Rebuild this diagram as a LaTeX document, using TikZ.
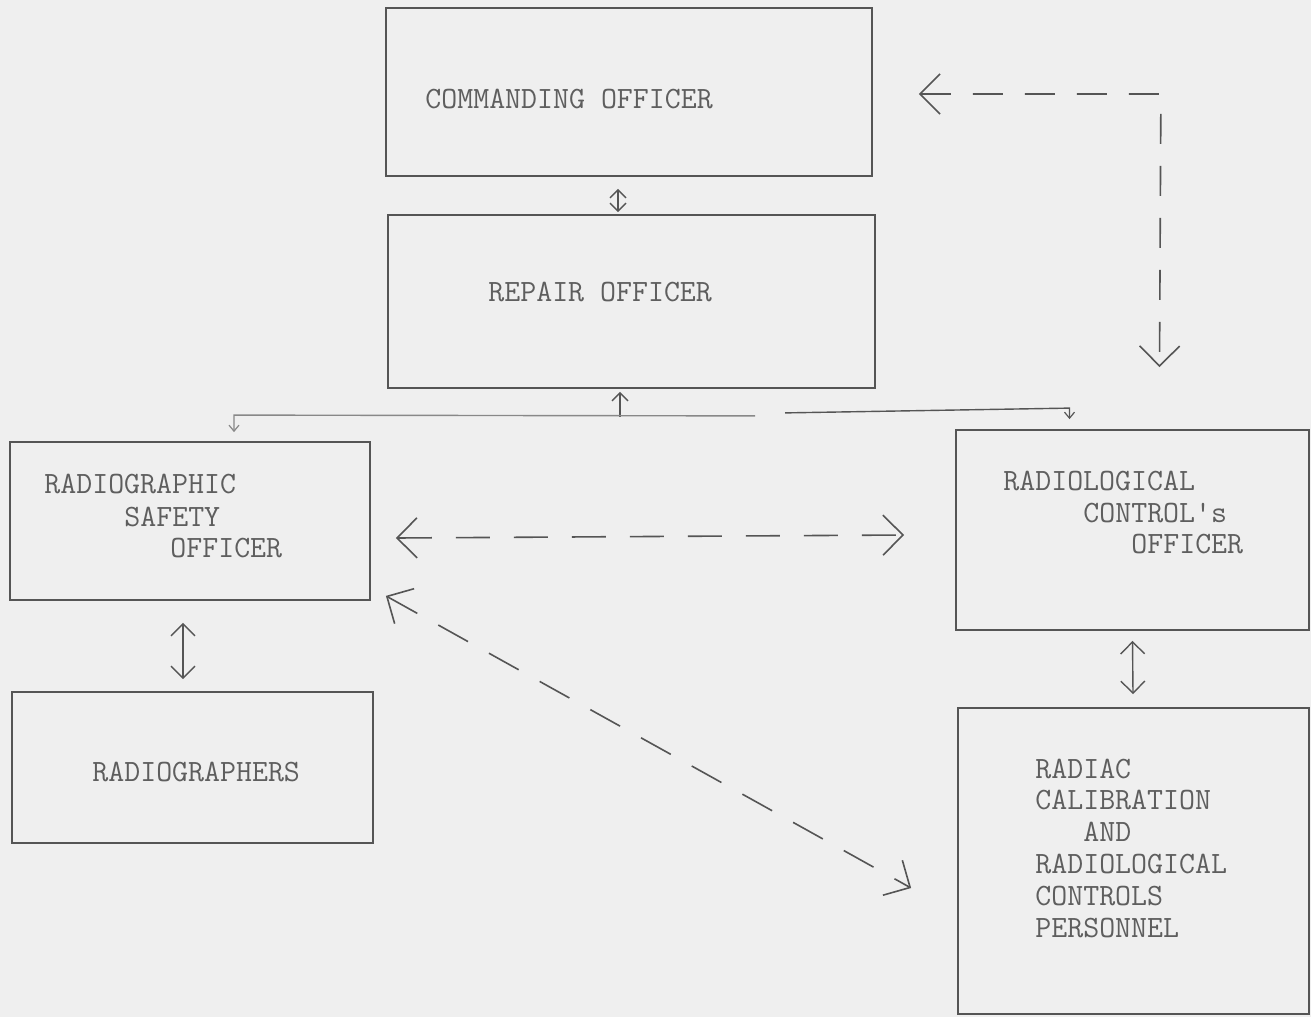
\documentclass[tikz,border=0pt]{standalone}
\usepackage{fontspec}
\usetikzlibrary{arrows.meta,fit,calc}
\definecolor{paper}{HTML}{EFEFEF}
\definecolor{ink}{HTML}{555555}
\definecolor{txt}{HTML}{5E5E5E}
\tikzset{
  bigtip/.tip={Straight Barb[length=10pt,width=20pt,line width=0.8pt]},
  midtip/.tip={Straight Barb[length=6pt,width=12pt,line width=0.7pt]},
  smalltip/.tip={Straight Barb[length=3pt,width=5pt,line width=0.6pt]},
  tinytip/.tip={Straight Barb[length=4pt,width=8pt,line width=0.7pt]}
}
\begin{document}
\begin{tikzpicture}[x=0.5pt,y=-0.5pt,
  box/.style={draw=ink, line width=0.9pt, inner sep=0pt},
  lbl/.style={anchor=base west, inner sep=0pt, text=txt, font=\ttfamily\fontsize{15.5}{18}\selectfont},
  dline/.style={draw=ink, line width=0.8pt, dash pattern=on 17pt off 12pt},
  dlineB/.style={draw=ink, line width=0.8pt, dash pattern=on 15pt off 11pt},
  sline/.style={draw=ink, line width=0.7pt}]
\fill[paper] (0,0) rectangle (1311,1017);
\useasboundingbox (0,0) rectangle (1311,1017);

% boxes
\node[box, fit={(386,8) (872,176)}] (co) {};
\node[box, fit={(388,215) (875,388)}] (rep) {};
\node[box, fit={(10,442) (370,600)}] (rso) {};
\node[box, fit={(12,692) (373,843)}] (rg) {};
\node[box, fit={(956,430) (1309,630)}] (rco) {};
\node[box, fit={(958,708) (1309,1014)}] (rad) {};

% labels
\node[lbl] (coT) at (425,108) {COMMANDING OFFICER};
\node[lbl] (repT) at (488,301) {REPAIR OFFICER};
\node[lbl] (rsoA) at (44,493) {RADIOGRAPHIC};
\node[lbl] (rsoB) at (124,526) {SAFETY};
\node[lbl] (rsoC) at (170,557) {OFFICER};
\node[lbl] (rgT) at (92,781) {RADIOGRAPHERS};
\node[lbl] (rcoA) at (1003,490) {RADIOLOGICAL};
\node[lbl] (rcoB) at (1083,522) {CONTROL's};
\node[lbl] (rcoC) at (1131,553) {OFFICER};
\node[lbl] (radA) at (1035,778) {RADIAC};
\node[lbl] (radB) at (1035,809) {CALIBRATION};
\node[lbl] (radC) at (1083,841) {AND};
\node[lbl] (radD) at (1035,873) {RADIOLOGICAL};
\node[lbl] (radE) at (1035,905) {CONTROLS};
\node[lbl] (radF) at (1035,937) {PERSONNEL};

% commanding officer <-> repair officer
\draw[sline, tinytip-tinytip]
  ($(co.south)+(-11,12)$) -- ($(rep.north)+(-13.5,-2)$);

% dashed corner link commanding officer <-> radiological control's officer
\coordinate (corner) at ($(co.east)+(288,2)$);
\draw[dlineB, bigtip-bigtip]
  ($(co.east)+(46,2)$) -- (corner) -- ($(rco.north)+(27,-62)$);

% repair officer bus
\coordinate (busL) at ($(rso.north)+(44,-26)$);
\coordinate (busM) at ($(rep.south)+(-11.5,28)$);
\coordinate (gapL) at ($(rep.south)+(123.5,27)$);
\coordinate (gapR) at ($(rep.south)+(153.5,24)$);
\coordinate (busR) at ($(rco.north)+(-63,-21)$);
\draw[sline, -tinytip] (busM) -- ($(rep.south)+(-11.5,3)$);
\draw[sline, draw=ink!70, -smalltip] (gapL) -- (busL) -- ($(rso.north)+(44,-9)$);
\draw[sline, -smalltip] (gapR) -- (busR) -- ($(rco.north)+(-63,-10)$);

% radiographic safety officer <-> radiological control's officer
\draw[dline, bigtip-bigtip] ($(rso.east)+(25,17)$) -- ($(rco.west)+(-51,5)$);

% radiographic safety officer <-> radiac personnel (diagonal)
\draw[dline, bigtip-bigtip] ($(rso.south east)+(15,-5)$) -- ($(rad.west)+(-46,27)$);

% vertical double arrows
\draw[sline, midtip-midtip] ($(rso.south)+(-7,22)$) -- ($(rg.north)+(-9.5,-12)$);
\draw[sline, midtip-midtip] ($(rco.south)+(0,10)$) -- ($(rad.north)+(-0.5,-13)$);
\end{tikzpicture}
\end{document}
